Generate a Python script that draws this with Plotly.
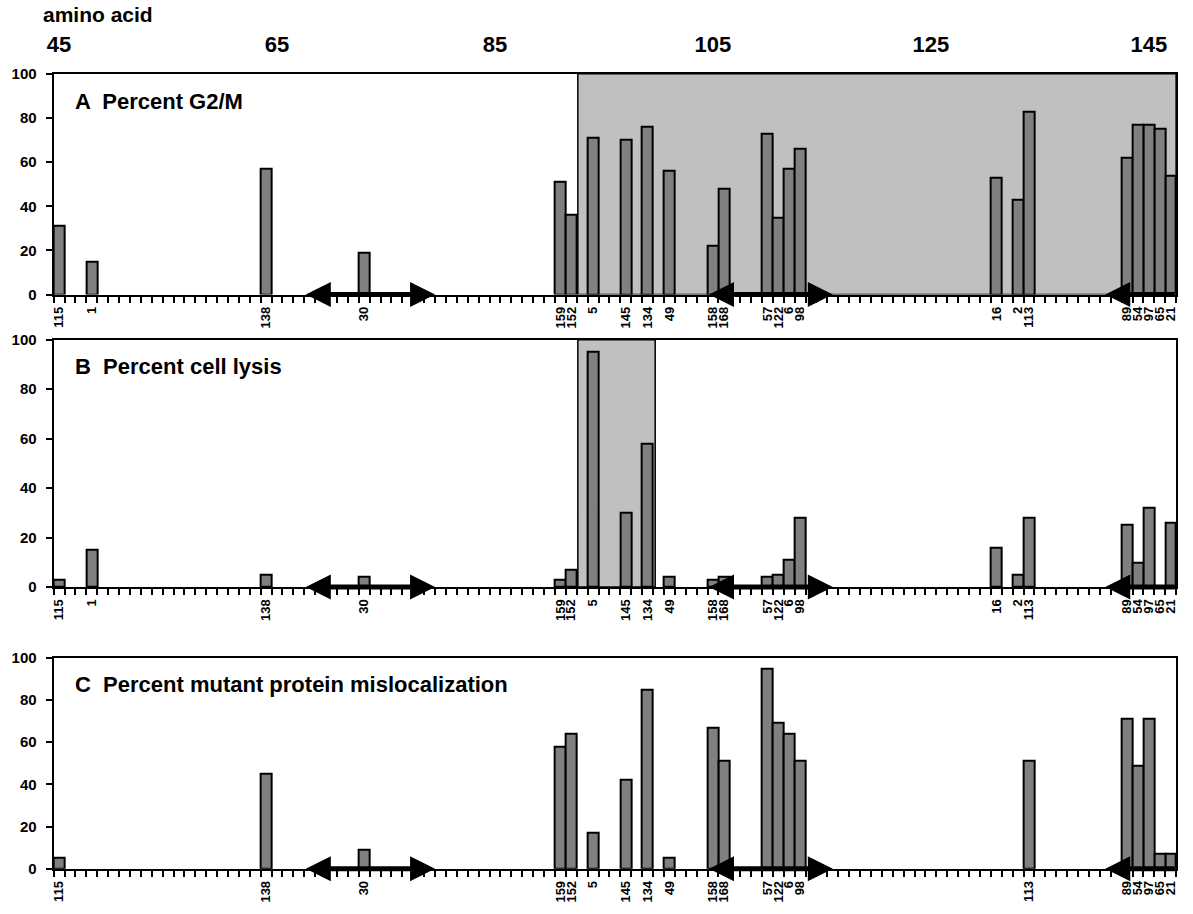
import plotly.graph_objects as go

# ---------------- data ----------------
mutant_labels = ["115", "1", "138", "30", "159", "152", "5", "145", "134", "49",
                 "158", "168", "57", "122", "6", "98", "16", "2", "113",
                 "89", "54", "97", "65", "21"]
aa_position = [45, 48, 64, 73, 91, 92, 94, 97, 99, 101,
               105, 106, 110, 111, 112, 113, 131, 133, 134,
               143, 144, 145, 146, 147]
pct_g2m = [31, 15, 57, 19, 51, 36, 71, 70, 76, 56,
           22, 48, 73, 35, 57, 66, 53, 43, 83,
           62, 77, 77, 75, 54]
pct_lysis = [3, 15, 5, 4, 3, 7, 95, 30, 58, 4,
             3, 4, 4, 5, 11, 28, 16, 5, 28,
             25, 10, 32, 0, 26]
pct_mislocalization = [5, None, 45, 9, 58, 64, 17, 42, 85, 5,
                       67, 51, 95, 69, 64, 51, None, None, 51,
                       71, 49, 71, 7, 7]
panel_titles = ["A  Percent G2/M", "B  Percent cell lysis",
                "C  Percent mutant protein mislocalization"]
top_tick_values = [45, 65, 85, 105, 125, 145]
y_ticks = [0, 20, 40, 60, 80, 100]
aa_range = [44.5, 147.5]
# helical regions drawn as arrows (start, end, double-headed?)
helix_regions = [(67.5, 79.5, True), (104.5, 116.0, True), (141.0, 147.5, False)]
# highlighted regions per panel
shaded_regions = [(92.6, 147.5), (92.6, 99.7), None]

# ---------------- layout geometry ----------------
W, H = 1193, 914
x_dom = [47 / W, 1178 / W]
panel_px = [(66, 291), (337, 589), (661, 876)]  # (top, bottom) in px
title_px = [94, 364, 688]

FONT = "Liberation Sans, Arial, sans-serif"
BAR_FILL = "#808080"
SHADE = "#c0c0c0"

fig = go.Figure()
layout = dict(
    width=W, height=H,
    margin=dict(l=0, r=0, t=0, b=0),
    paper_bgcolor="white", plot_bgcolor="white",
    font=dict(family=FONT, color="black"),
    showlegend=False,
    bargap=0,
)

series = [pct_g2m, pct_lysis, pct_mislocalization]
annotations = []
shapes = []

for i, vals in enumerate(series):
    xa = "x" if i == 0 else f"x{i+1}"
    ya = "y" if i == 0 else f"y{i+1}"
    xkey = "xaxis" if i == 0 else f"xaxis{i+1}"
    ykey = "yaxis" if i == 0 else f"yaxis{i+1}"
    top, bot = panel_px[i]
    y_dom = [(H - bot) / H, (H - top) / H]

    bx = [p for p, v in zip(aa_position, vals) if v]
    by = [v for v in vals if v]
    fig.add_trace(go.Bar(
        x=bx, y=by, width=1.0, xaxis=xa, yaxis=ya,
        marker=dict(color=BAR_FILL, line=dict(color="black", width=2)),
        hoverinfo="x+y",
    ))

    tv = [p for p, v in zip(aa_position, vals) if v is not None]
    tt = [l for l, v in zip(mutant_labels, vals) if v is not None]

    layout[xkey] = dict(
        domain=x_dom, anchor=ya, range=aa_range,
        showline=True, linewidth=2, linecolor="black", mirror=True,
        showgrid=False, zeroline=False,
        tickmode="array", tickvals=tv, ticktext=tt, ticks="",
        tickangle=-90, tickfont=dict(size=13, weight="bold", family=FONT),
        ticklabelstandoff=5,
        minor=dict(tickmode="linear", tick0=aa_range[0], dtick=1,
                   ticks="outside", ticklen=6, tickwidth=1.5,
                   tickcolor="black", showgrid=False),
    )
    layout[ykey] = dict(
        domain=y_dom, anchor=xa, range=[0, 100],
        showline=True, linewidth=2, linecolor="black", mirror=True,
        showgrid=False, zeroline=False,
        tickmode="array", tickvals=y_ticks, ticks="outside",
        ticklen=6, tickwidth=1.5, tickcolor="black",
        tickfont=dict(size=15, weight="bold", family=FONT),
        ticklabelstandoff=6,
    )

    if shaded_regions[i] is not None:
        x0, x1 = shaded_regions[i]
        shapes.append(dict(type="rect", xref=xa, yref=ya, x0=x0, x1=x1,
                           y0=0, y1=100, fillcolor=SHADE,
                           line=dict(color="black", width=1.5), layer="below"))

    for (s, e, both) in helix_regions:
        if both:
            annotations.append(dict(
                x=e, y=0, ax=s, ay=0, xref=xa, yref=ya, axref=xa, ayref=ya,
                text="", showarrow=True, arrowside="end+start",
                arrowhead=2, startarrowhead=2, arrowwidth=5,
                arrowsize=1.0, startarrowsize=1.0, arrowcolor="black",
                standoff=0, startstandoff=0))
        else:
            annotations.append(dict(
                x=s, y=0, ax=e, ay=0, xref=xa, yref=ya, axref=xa, ayref=ya,
                text="", showarrow=True, arrowside="end",
                arrowhead=2, arrowwidth=5, arrowsize=1.0,
                arrowcolor="black", standoff=0))

    annotations.append(dict(
        text=panel_titles[i], xref="paper", yref="paper",
        x=67 / W, y=(H - title_px[i]) / H, xanchor="left", yanchor="middle",
        showarrow=False, font=dict(size=22, weight="bold", family=FONT)))

# top amino-acid axis
fig.add_trace(go.Scatter(x=top_tick_values, y=[0] * len(top_tick_values),
                         mode="markers", marker=dict(opacity=0),
                         xaxis="x4", yaxis="y", hoverinfo="skip"))
layout["xaxis4"] = dict(
    overlaying="x", side="top", anchor="y", range=aa_range, domain=x_dom,
    tickmode="array", tickvals=top_tick_values, ticks="",
    showline=False, showgrid=False, zeroline=False,
    tickfont=dict(size=22, weight="bold", family=FONT),
    ticklabelstandoff=16,
)
annotations.append(dict(
    text="amino acid", xref="paper", yref="paper", x=34 / W, y=(H - 6) / H,
    xanchor="left", yanchor="middle", showarrow=False,
    font=dict(size=21, weight="bold", family=FONT)))

layout["annotations"] = annotations
layout["shapes"] = shapes
fig.update_layout(**layout)

fig.write_html("out.html",
               config={"displayModeBar": False},
               post_script="document.body.style.margin='0';"
                           "document.body.style.overflow='hidden';")
